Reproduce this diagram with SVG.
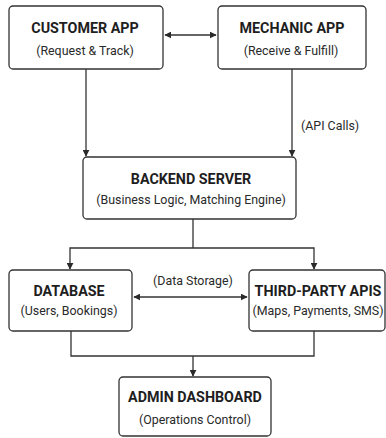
<svg xmlns="http://www.w3.org/2000/svg" width="386" height="438" viewBox="0 0 386 438">
<defs>
<marker id="ah" viewBox="0 0 10 10" refX="9" refY="5" markerWidth="7" markerHeight="7" markerUnits="userSpaceOnUse" orient="auto-start-reverse"><path d="M0,0 L10,5 L0,10 z" fill="#2a2a2a"/></marker>
<style>
.box{fill:#fff;stroke:#333;stroke-width:1.3}
.t{font-family:Roboto,"Liberation Sans",Arial,sans-serif;font-weight:bold;font-size:14.3px;fill:#1e1e1e;text-anchor:middle}
.s{font-family:Roboto,"Liberation Sans",Arial,sans-serif;font-size:12.4px;fill:#2a2a2a;text-anchor:middle}
.l{font-family:Roboto,"Liberation Sans",Arial,sans-serif;font-size:12.4px;fill:#2a2a2a}
.c{fill:none;stroke:#333;stroke-width:1.3}
</style>
</defs>
<rect width="386" height="438" fill="#fff"/>
<g id="connectors">
<line class="c" x1="165" y1="35" x2="216" y2="35" marker-start="url(#ah)" marker-end="url(#ah)"/>
<line class="c" x1="86" y1="69" x2="86" y2="156" marker-end="url(#ah)"/>
<line class="c" x1="292" y1="69" x2="292" y2="156" marker-end="url(#ah)"/>
<text class="l" x="301" y="130">(API Calls)</text>
<polyline class="c" points="193,219 193,248"/>
<polyline class="c" points="70,269 70,248 314,248 314,269" marker-start="url(#ah)" marker-end="url(#ah)"/>
<line class="c" x1="134" y1="297" x2="247" y2="297" marker-start="url(#ah)" marker-end="url(#ah)"/>
<text class="s" x="193" y="285">(Data Storage)</text>
<polyline class="c" points="71,331 71,356 314,356 314,331"/>
<line class="c" x1="193" y1="356" x2="193" y2="376" marker-end="url(#ah)"/>
</g>
<g id="customer-app">
<rect class="box" x="9" y="6" width="154" height="63" rx="4"/>
<text class="t" x="85" y="33">CUSTOMER APP</text>
<text class="s" x="85" y="55">(Request &amp; Track)</text>
</g>
<g id="mechanic-app">
<rect class="box" x="218" y="6" width="148" height="63" rx="4"/>
<text class="t" x="292" y="33">MECHANIC APP</text>
<text class="s" x="291" y="55">(Receive &amp; Fulfill)</text>
</g>
<g id="backend-server">
<rect class="box" x="83" y="157" width="213" height="62" rx="4"/>
<text class="t" x="191" y="184">BACKEND SERVER</text>
<text class="s" x="191" y="204">(Business Logic, Matching Engine)</text>
</g>
<g id="database">
<rect class="box" x="9" y="270" width="123" height="61" rx="4"/>
<text class="t" x="69" y="296">DATABASE</text>
<text class="s" x="69" y="315">(Users, Bookings)</text>
</g>
<g id="third-party-apis">
<rect class="box" x="249" y="270" width="136" height="61" rx="4"/>
<text class="t" x="318" y="296">THIRD-PARTY APIS</text>
<text class="s" x="318" y="315">(Maps, Payments, SMS)</text>
</g>
<g id="admin-dashboard">
<rect class="box" x="119" y="377" width="152" height="59" rx="4"/>
<text class="t" x="195" y="402">ADMIN DASHBOARD</text>
<text class="s" x="195" y="424">(Operations Control)</text>
</g>
</svg>
